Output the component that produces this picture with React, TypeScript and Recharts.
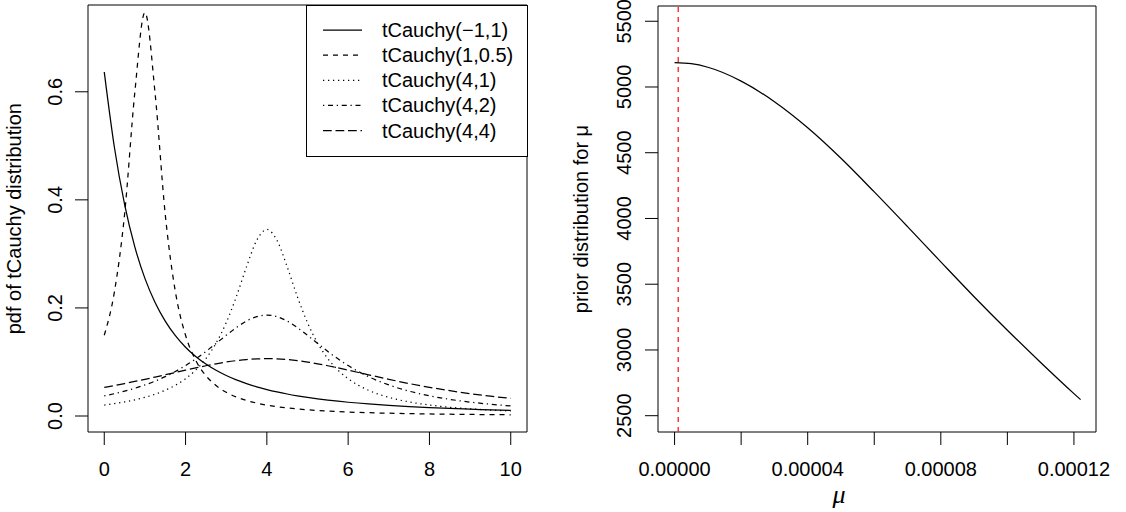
import React from 'react';
import { LineChart, Line, XAxis, YAxis, ReferenceArea, ReferenceLine, Legend } from 'recharts';

const FONT = '"Liberation Sans", Arial, Helvetica, sans-serif';
const FS = 20;

// ---------- left panel data ----------
const xGrid = [0, 0.25, 0.5, 0.75, 1, 1.25, 1.5, 1.75, 2, 2.25, 2.5, 2.75, 3, 3.25, 3.5, 3.75, 4, 4.25, 4.5, 4.75, 5, 5.25, 5.5, 5.75, 6, 6.5, 7, 7.5, 8, 8.5, 9, 9.5, 10];
const tcM1_1 = [0.63662, 0.49688, 0.39177, 0.31341, 0.25465, 0.21002, 0.17562, 0.1487, 0.12732, 0.11012, 0.09609, 0.08453, 0.0749, 0.06679, 0.05992, 0.05404, 0.04897, 0.04458, 0.04074, 0.03738, 0.03441, 0.03178, 0.02944, 0.02735, 0.02546, 0.02224, 0.01959, 0.01738, 0.01553, 0.01395, 0.01261, 0.01144, 0.01044];
const tc1_05 = [0.14937, 0.22979, 0.37341, 0.59746, 0.74683, 0.59746, 0.37341, 0.22979, 0.14937, 0.10301, 0.07468, 0.05636, 0.04393, 0.03515, 0.02872, 0.0239, 0.02018, 0.01727, 0.01494, 0.01305, 0.01149, 0.0102, 0.00911, 0.00818, 0.00739, 0.00612, 0.00515, 0.00439, 0.00379, 0.0033, 0.00291, 0.00258, 0.0023];
const tc4_1 = [0.02031, 0.02292, 0.02606, 0.02986, 0.03452, 0.04032, 0.04762, 0.05695, 0.06905, 0.08498, 0.10623, 0.13473, 0.17262, 0.22095, 0.27619, 0.32493, 0.34523, 0.32493, 0.27619, 0.22095, 0.17262, 0.13473, 0.10623, 0.08498, 0.06905, 0.04762, 0.03452, 0.02606, 0.02031, 0.01625, 0.01328, 0.01105, 0.00933];
const tc4_2 = [0.03734, 0.04135, 0.04596, 0.05128, 0.05745, 0.06459, 0.07286, 0.08241, 0.09335, 0.10575, 0.11949, 0.13426, 0.14937, 0.16369, 0.17573, 0.18384, 0.18671, 0.18384, 0.17573, 0.16369, 0.14937, 0.13426, 0.11949, 0.10575, 0.09335, 0.07286, 0.05745, 0.04596, 0.03734, 0.0308, 0.02575, 0.02181, 0.01867];
const tc4_4 = [0.05305, 0.05647, 0.06009, 0.06391, 0.06791, 0.07205, 0.0763, 0.0806, 0.08488, 0.08906, 0.09302, 0.09666, 0.09986, 0.1025, 0.10447, 0.10569, 0.1061, 0.10569, 0.10447, 0.1025, 0.09986, 0.09666, 0.09302, 0.08906, 0.08488, 0.0763, 0.06791, 0.06009, 0.05305, 0.04683, 0.04141, 0.03671, 0.03265];

const seriesKeys = ['s1', 's2', 's3', 's4', 's5'];
const seriesNames = ['tCauchy(\u22121,1)', 'tCauchy(1,0.5)', 'tCauchy(4,1)', 'tCauchy(4,2)', 'tCauchy(4,4)'];
const seriesValues = [tcM1_1, tc1_05, tc4_1, tc4_2, tc4_4];

const leftXTicks = [0, 2, 4, 6, 8, 10];
const leftXTickLabels = ['0', '2', '4', '6', '8', '10'];
const leftYTicks = [0, 0.2, 0.4, 0.6];
const leftYTickLabels = ['0.0', '0.2', '0.4', '0.6'];

// ---------- right panel data ----------
const muValues = [0, 0.000005, 0.00001, 0.00002, 0.00003, 0.00004, 0.00005, 0.00006, 0.00007, 0.00008, 0.00009, 0.0001, 0.00011, 0.00012, 0.000122];
const priorValues = [5185, 5177, 5150, 5045, 4888, 4690, 4458, 4202, 3938, 3670, 3405, 3150, 2905, 2668, 2622];
const markedMu = 0.0000011;

const rightXTicks = [0, 0.00002, 0.00004, 0.00006, 0.00008, 0.0001, 0.00012];
const rightXTickLabels = ['0.00000', '', '0.00004', '', '0.00008', '', '0.00012'];
const rightYTicks = [2500, 3000, 3500, 4000, 4500, 5000, 5500];
const rightYTickLabels = ['2500', '3000', '3500', '4000', '4500', '5000', '5500'];

// ---------- styles (not data) ----------
const LW = 1.25;
const dashStyles = ['', '5 5', '1.25 3.75', '1.25 3.75 5 3.75', '8.75 3.75'];

const leftData = xGrid.map((x, i) => {
  const row: any = { x };
  seriesKeys.forEach((k, j) => { row[k] = seriesValues[j][i]; });
  return row;
});
const rightData = muValues.map((m, i) => ({ mu: m, prior: priorValues[i] }));

const LX = [-0.4, 10.4];
const LY = [-0.0296, 0.7606];
const RX = [-0.00000498, 0.00012663];
const RY = [2376, 5616];

function findIdx(ticks: number[], v: number) {
  let best = 0;
  let bd = Infinity;
  ticks.forEach((t, i) => { const d = Math.abs(t - v); if (d < bd) { bd = d; best = i; } });
  return best;
}

const XTickLabel = (props: any) => {
  const { x, payload, ticks, labels } = props;
  const lab = labels[findIdx(ticks, payload.value)];
  if (!lab) return null;
  return (
    <text x={x} y={476} textAnchor="middle" fontFamily={FONT} fontSize={FS} fill="#000">{lab}</text>
  );
};

const YTickLabel = (props: any) => {
  const { y, payload, ticks, labels, bx } = props;
  const lab = labels[findIdx(ticks, payload.value)];
  return (
    <text x={bx} y={y} transform={`rotate(-90 ${bx} ${y})`} textAnchor="middle" fontFamily={FONT} fontSize={FS} fill="#000">{lab}</text>
  );
};

const LegendBox = () => {
  const w = 221;
  const h = 151;
  const rowY = (i: number) => 25.1 * (i + 1);
  return (
    <svg width={w + 2} height={h + 2} style={{ display: 'block' }}>
      <rect x={0.5} y={0.5} width={w} height={h} fill="#fff" stroke="#000" strokeWidth={1} />
      {seriesNames.map((n, i) => (
        <g key={n}>
          <line x1={17} x2={56} y1={rowY(i)} y2={rowY(i)} stroke="#000" strokeWidth={LW} strokeDasharray={dashStyles[i] || undefined} />
          <text x={76} y={rowY(i) + 7} fontFamily={FONT} fontSize={FS} fill="#000">{n}</text>
        </g>
      ))}
    </svg>
  );
};

export default function App() {
  return (
    <div style={{ position: 'absolute', left: 0, top: 0, width: 1126, height: 512, background: '#fff', overflow: 'hidden' }}>
      <div style={{ position: 'absolute', left: 0, top: 0 }}>
        <LineChart width={563} height={512} data={leftData} margin={{ top: 5, right: 36, left: 0, bottom: 0 }}>
          <XAxis
            type="number"
            dataKey="x"
            domain={LX}
            allowDataOverflow
            ticks={leftXTicks}
            interval={0}
            axisLine={false}
            tickLine={{ stroke: '#000', strokeWidth: 1 }}
            tickSize={13}
            height={80}
            tick={<XTickLabel ticks={leftXTicks} labels={leftXTickLabels} />}
          />
          <YAxis
            type="number"
            domain={LY}
            allowDataOverflow
            ticks={leftYTicks}
            interval={0}
            axisLine={false}
            tickLine={{ stroke: '#000', strokeWidth: 1 }}
            tickSize={13}
            width={88}
            tick={<YTickLabel ticks={leftYTicks} labels={leftYTickLabels} bx={62} />}
          />
          <ReferenceArea x1={LX[0]} x2={LX[1]} y1={LY[0]} y2={LY[1]} fill="none" fillOpacity={0} stroke="#000" strokeWidth={1} ifOverflow="visible" />
          {seriesKeys.map((k, i) => (
            <Line
              key={k}
              type="monotone"
              dataKey={k}
              name={seriesNames[i]}
              stroke="#000"
              strokeWidth={LW}
              strokeDasharray={dashStyles[i] || undefined}
              dot={false}
              activeDot={false}
              isAnimationActive={false}
            />
          ))}
          <Legend
            layout="vertical"
            align="center"
            verticalAlign="middle"
            content={() => <LegendBox />}
            wrapperStyle={{ position: 'absolute', left: 306, top: 5, width: 223, height: 153 }}
          />
        </LineChart>
      </div>
      <div style={{ position: 'absolute', left: 563, top: 0 }}>
        <LineChart width={563} height={512} data={rightData} margin={{ top: 6, right: 30, left: 0, bottom: 0 }}>
          <XAxis
            type="number"
            dataKey="mu"
            domain={RX}
            allowDataOverflow
            ticks={rightXTicks}
            interval={0}
            axisLine={false}
            tickLine={{ stroke: '#000', strokeWidth: 1 }}
            tickSize={13}
            height={80}
            tick={<XTickLabel ticks={rightXTicks} labels={rightXTickLabels} />}
          />
          <YAxis
            type="number"
            domain={RY}
            allowDataOverflow
            ticks={rightYTicks}
            interval={0}
            axisLine={false}
            tickLine={{ stroke: '#000', strokeWidth: 1 }}
            tickSize={13}
            width={95}
            tick={<YTickLabel ticks={rightYTicks} labels={rightYTickLabels} bx={68} />}
          />
          <ReferenceArea x1={RX[0]} x2={RX[1]} y1={RY[0]} y2={RY[1]} fill="none" fillOpacity={0} stroke="#000" strokeWidth={1} ifOverflow="visible" />
          <ReferenceLine x={markedMu} stroke="#ff2a2a" strokeWidth={1.4} strokeDasharray="5 5" ifOverflow="visible" />
          <Line type="monotone" dataKey="prior" stroke="#000" strokeWidth={LW} dot={false} activeDot={false} isAnimationActive={false} />
        </LineChart>
      </div>
      <svg width={1126} height={512} style={{ position: 'absolute', left: 0, top: 0, pointerEvents: 'none' }}>
        <text x={21} y={218.7} transform="rotate(-90 21 218.7)" textAnchor="middle" fontFamily={FONT} fontSize={FS} fill="#000">pdf of tCauchy distribution</text>
        <text x={588} y={219} transform="rotate(-90 588 219)" textAnchor="middle" fontFamily={FONT} fontSize={FS} fill="#000">prior distribution for μ</text>
        <text x={839} y={503} textAnchor="middle" fontFamily='"Liberation Serif", "DejaVu Serif", serif' fontStyle="italic" fontSize={26} fill="#000">μ</text>
      </svg>
    </div>
  );
}
